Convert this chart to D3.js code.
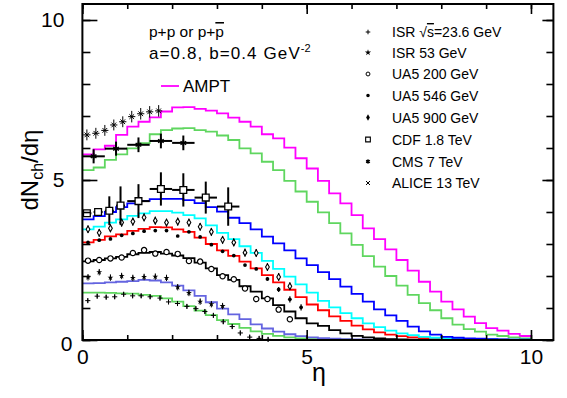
<!DOCTYPE html>
<html><head><meta charset="utf-8">
<script src="https://cdn.jsdelivr.net/npm/d3@7"></script>
<style>
body{margin:0;background:#fff}
svg{display:block}
text{font-family:"Liberation Sans",Arial,Helvetica,sans-serif;fill:#000}
</style>
</head><body>
<svg id="c" width="567" height="398"></svg>
<script>
// ---------- data ----------
const binWidth = 0.25;
// AMPT histograms (40 bins of 0.25 from 0 to 10)
const amptAlice13 = [5.80,5.96,6.07,6.41,6.67,6.82,6.96,7.14,7.27,7.28, 7.22,7.17,7.08,6.95,6.82,6.67,6.43,6.30,6.01,5.68, 5.36,4.97,4.58,4.27,3.90,3.49,3.15,2.83,2.50,2.17, 1.82,1.51,1.20,0.96,0.73,0.53,0.37,0.29,0.19,0.125];
const amptCms7 = [5.31,5.39,5.63,5.80,5.99,6.15,6.43,6.56,6.61,6.62, 6.56,6.51,6.39,6.25,5.99,5.83,5.57,5.31,4.97,4.64, 4.32,3.99,3.65,3.33,2.97,2.62,2.29,2.00,1.70,1.41, 1.15,0.93,0.68,0.48,0.34,0.26,0.17,0.125,0.08,0.05];
const amptCdf = [3.77,3.87,4.00,4.15,4.27,4.35,4.40,4.41,4.41,4.37, 4.28,4.15,4.01,3.82,3.65,3.46,3.23,3.02,2.80,2.55, 2.34,2.12,1.90,1.67,1.44,1.20,0.96,0.77,0.60,0.42, 0.27,0.17,0.10,0.07,0.05,0.04,0.03,0.02,0.01,0.01];
const amptUa5900 = [3.46,3.54,3.67,3.77,3.88,3.96,4.03,4.03,3.98,3.90, 3.80,3.58,3.35,3.15,2.93,2.72,2.47,2.22,1.98,1.74, 1.48,1.22,1.02,0.84,0.68,0.52,0.40,0.29,0.21,0.15, 0.10,0.07,0.05,0.04,0.03,0.02,0.02,0.01,0.01,0.01];
const amptUa5546 = [3.05,3.13,3.24,3.30,3.41,3.47,3.53,3.52,3.46,3.38, 3.20,3.00,2.80,2.63,2.45,2.24,2.03,1.80,1.57,1.34, 1.11,0.93,0.74,0.60,0.45,0.33,0.24,0.17,0.12,0.08, 0.06,0.04,0.03,0.02,0.02,0.01,0.01,0.01,0.00,0.00];
const amptUa5200 = [2.46,2.50,2.55,2.60,2.68,2.72,2.75,2.70,2.64,2.56, 2.42,2.24,2.03,1.88,1.68,1.51,1.30,1.09,0.89,0.68, 0.52,0.44,0.31,0.21,0.13,0.08,0.05,0.03,0.02,0.01, 0.01,0.01,0.00,0.00,0.00,0.00,0.00,0.00,0.00,0.00];
const amptIsr53 = [1.77,1.78,1.80,1.82,1.84,1.88,1.86,1.80,1.70,1.55, 1.38,1.18,0.98,0.80,0.65,0.49,0.36,0.26,0.18,0.12, 0.08,0.06,0.04,0.03,0.02,0.01,0.01,0.01,0.00,0.00, 0.00,0.00,0.00,0.00,0.00,0.00,0.00,0.00,0.00,0.00];
const amptIsr23 = [1.48,1.48,1.47,1.46,1.45,1.41,1.38,1.30,1.20,1.06, 0.92,0.78,0.62,0.50,0.38,0.27,0.19,0.13,0.08,0.05, 0.03,0.02,0.01,0.01,0.00,0.00,0.00,0.00,0.00,0.00, 0.00,0.00,0.00,0.00,0.00,0.00,0.00,0.00,0.00,0.00];

// experimental data
const alice13Eta = [0.1,0.3,0.5,0.7,0.9,1.1,1.3,1.5,1.7];
const alice13Val = [6.41,6.46,6.55,6.72,6.82,6.98,7.07,7.13,7.16];
const alice13Err = [0.17,0.17,0.17,0.17,0.17,0.18,0.18,0.18,0.18];

const cms7Eta = [0.25,0.75,1.25,1.75,2.25];
const cms7Val = [5.74,5.98,6.10,6.22,6.16];
const cms7Err = [0.22,0.22,0.23,0.23,0.23];

const cdfEta = [0.1,0.35,0.6,0.85,1.25,1.75,2.25,2.75,3.25];
const cdfVal = [3.96,4.00,4.04,4.20,4.34,4.72,4.69,4.45,4.17];
const cdfErr = [0.05,0.06,0.45,0.6,0.53,0.52,0.52,0.5,0.6];
const cdfXErr = [0.1,0.1,0.1,0.1,0.25,0.25,0.25,0.25,0.25];

const ua5Eta = [0.125,0.375,0.625,0.875,1.125,1.375,1.625,1.875,2.125,2.375,2.625,2.875,3.125,3.375,3.625,3.875,4.125,4.375,4.625,4.875];
const ua5900Val = [3.46,3.35,3.49,3.67,3.70,3.83,3.73,3.67,3.70,3.67,3.54,3.38,3.13,3.05,2.73,2.72,2.28,1.97,1.68];
const ua5546Val = [3.05,3.12,3.16,3.27,3.33,3.40,3.42,3.42,3.25,3.38,3.22,2.98,2.77,2.64,2.34,2.22,1.91,1.58,1.27,1.02];
const ua5546Err = [0,0,0,0,0,0,0,0,0,0,0,0,0,0,0,0,0.06,0.08,0.1,0.1];
const ua5200Val = [2.48,2.50,2.55,2.58,2.72,2.81,2.70,2.75,2.69,2.47,2.45,2.22,1.99,1.90,1.61,1.28,1.28,0.95,0.65];

const isr53Val = [1.96,2.12,1.95,2.00,1.94,1.97,1.98,1.94,1.65,1.47,1.20,1.12,1.06];

const isr23Eta = [0.12,0.33,0.53,0.72,0.92,1.12,1.31,1.51,1.73,1.92,2.12,2.33,2.53,2.73,2.92,3.14,3.34,3.52,3.73,3.94,4.14];
const isr23Val = [1.23,1.37,1.34,1.35,1.43,1.38,1.38,1.35,1.31,1.19,1.14,1.05,0.98,0.89,0.77,0.57,0.42,0.22,0.09,0.05,0.02];

const xTicksMajor = [0,5,10];
const yTicksMajor = [0,5,10];

const legendLabels = ["ISR \u221As=23.6 GeV","ISR 53 GeV","UA5 200 GeV","UA5 546 GeV","UA5 900 GeV","CDF 1.8 TeV","CMS 7 TeV","ALICE 13 TeV"];

// ---------- chart ----------
const svg = d3.select('#c');
const x = d3.scaleLinear().domain([0,10.5]).range([82.4,553.4]);
const y = d3.scaleLinear().domain([0,10.5]).range([340,4]);

// histograms
const hists = [
  {v:amptAlice13, c:"#ff00ff"},
  {v:amptCms7, c:"#5fd65f"},
  {v:amptIsr23, c:"#5fd65f"},
  {v:amptIsr53, c:"#6464e0"},
  {v:amptUa5200, c:"#000000"},
  {v:amptUa5546, c:"#ff0000"},
  {v:amptUa5900, c:"#00ffff"},
  {v:amptCdf, c:"#0000ff"}
];
const stepLine = d3.line().x(d=>x(d[0])).y(d=>y(d[1])).curve(d3.curveStepAfter);
const gH = svg.append('g');
hists.forEach(h=>{
  const pts = h.v.map((v,i)=>[i*binWidth, v]);
  pts.push([h.v.length*binWidth, h.v[h.v.length-1]]);
  gH.append('path').attr('d', stepLine(pts)).attr('fill','none')
    .attr('stroke', h.c).attr('stroke-width',1.8);
});

// markers
const gM = svg.append('g').attr('stroke','#000').attr('fill','none');
function ebar(g, ex, ey, err, xerr, sw){
  if (err>0) g.append('line').attr('x1',x(ex)).attr('x2',x(ex)).attr('y1',y(ey-err)).attr('y2',y(ey+err)).attr('stroke-width',sw);
  if (xerr>0) g.append('line').attr('x1',x(ex-xerr)).attr('x2',x(ex+xerr)).attr('y1',y(ey)).attr('y2',y(ey)).attr('stroke-width',sw);
}
function sym(g, type, size, cx, cy, fill, sw){
  g.append('path').attr('d', d3.symbol().type(type).size(size)())
    .attr('transform',`translate(${cx},${cy})`)
    .attr('fill', fill).attr('stroke', fill==='#000'?'none':'#000').attr('stroke-width', sw);
}

// ISR 23.6: small plus with error bars
isr23Eta.forEach((e,i)=>{
  ebar(gM, e, isr23Val[i], 0.07, 0, 1);
  sym(gM, d3.symbolPlus, 10, x(e), y(isr23Val[i]), 'none', 1);
});
// ISR 53: star
isr53Val.forEach((v,i)=>{
  const e = ua5Eta[i];
  ebar(gM, e, v, 0.1, 0, 1);
  sym(gM, d3.symbolStar, 11, x(e), y(v), '#000', 0);
});
// UA5 200: open circle
ua5200Val.forEach((v,i)=>{
  sym(gM, d3.symbolCircle, 22, x(ua5Eta[i]), y(v), '#fff', 1.2);
});
// UA5 546: filled dot
ua5546Val.forEach((v,i)=>{
  ebar(gM, ua5Eta[i], v, ua5546Err[i], 0, 1.2);
  sym(gM, d3.symbolCircle, 11, x(ua5Eta[i]), y(v), '#000', 0);
});
// UA5 900: small open marker with bar
ua5900Val.forEach((v,i)=>{
  ebar(gM, ua5Eta[i], v, 0.12, 0, 1.2);
  sym(gM, d3.symbolDiamond, 12, x(ua5Eta[i]), y(v), '#fff', 1.1);
});
// CDF: open square with errors
cdfEta.forEach((e,i)=>{
  ebar(gM, e, cdfVal[i], cdfErr[i], cdfXErr[i], 2);
  sym(gM, d3.symbolSquare, 46, x(e), y(cdfVal[i]), '#fff', 1.3);
});
// CMS 7: asterisk with errors
cms7Eta.forEach((e,i)=>{
  ebar(gM, e, cms7Val[i], cms7Err[i], 0.25, 2);
  gM.append('path').attr('d', d3.symbol().type(d3.symbolAsterisk).size(30)())
    .attr('transform',`translate(${x(e)},${y(cms7Val[i])})`).attr('stroke-width',1.4);
});
// ALICE 13: times with errors
alice13Eta.forEach((e,i)=>{
  ebar(gM, e, alice13Val[i], alice13Err[i], 0.08, 1);
  gM.append('path').attr('d', d3.symbol().type(d3.symbolTimes).size(16)())
    .attr('transform',`translate(${x(e)},${y(alice13Val[i])})`).attr('stroke-width',1);
});

// ---------- axes ----------
const minorX = d3.range(0,11,1), minorY = d3.range(0,11,1);
const fmt = d3.format('d');
const gx = svg.append('g').attr('transform',`translate(0,${y(0)})`)
  .call(d3.axisBottom(x).tickValues(minorX).tickSize(-5).tickFormat(''));
const gx2 = svg.append('g').attr('transform',`translate(0,${y(0)})`)
  .call(d3.axisBottom(x).tickValues(xTicksMajor).tickSize(-10).tickPadding(9).tickFormat(fmt));
const gt = svg.append('g').attr('transform',`translate(0,${y(10.5)})`)
  .call(d3.axisTop(x).tickValues(minorX).tickSize(-5).tickFormat(''));
const gt2 = svg.append('g').attr('transform',`translate(0,${y(10.5)})`)
  .call(d3.axisTop(x).tickValues(xTicksMajor).tickSize(-10).tickFormat(''));
const gy = svg.append('g').attr('transform',`translate(${x(0)},0)`)
  .call(d3.axisLeft(y).tickValues(minorY).tickSize(-8).tickFormat(''));
const gy2 = svg.append('g').attr('transform',`translate(${x(0)},0)`)
  .call(d3.axisLeft(y).tickValues(yTicksMajor).tickSize(-15).tickPadding(18).tickFormat(fmt));
const gr = svg.append('g').attr('transform',`translate(${x(10.5)},0)`)
  .call(d3.axisRight(y).tickValues(minorY).tickSize(-7).tickFormat(''));
const gr2 = svg.append('g').attr('transform',`translate(${x(10.5)},0)`)
  .call(d3.axisRight(y).tickValues(yTicksMajor).tickSize(-11).tickFormat(''));
[gx,gx2,gt,gt2,gy,gy2,gr,gr2].forEach(g=>{
  g.select('.domain').remove();
  g.selectAll('line').attr('stroke','#000').attr('stroke-width',1.6);
  g.selectAll('text').attr('font-size',21).attr('font-family','"Liberation Sans",Arial,sans-serif').attr('fill','#000');
});
gy2.selectAll('.tick').filter(d=>d===0).select('text').attr('x',-10).attr('dy','0.5em');

// frame
svg.append('rect').attr('x',x(0)).attr('y',y(10.5)).attr('width',x(10.5)-x(0)).attr('height',y(0)-y(10.5))
  .attr('fill','none').attr('stroke','#000').attr('stroke-width',2);

// axis titles
svg.append('text').attr('x',319).attr('y',381).attr('text-anchor','middle').attr('font-size',25).text('\u03B7');
const yl = svg.append('text').attr('transform','translate(38,170) rotate(-90)').attr('text-anchor','middle').attr('font-size',24);
yl.append('tspan').text('dN');
yl.append('tspan').attr('font-size',16).attr('dy',5).text('ch');
yl.append('tspan').attr('dy',-5).text('/d\u03B7');

// annotations
const t1 = svg.append('text').attr('x',149).attr('y',37).attr('font-size',15.5);
t1.append('tspan').text('p+p or p+');
t1.append('tspan').style('text-decoration','overline').text('p');
const t2 = svg.append('text').attr('x',149).attr('y',59).attr('font-size',17).attr('letter-spacing',1.1);
t2.append('tspan').text('a=0.8, b=0.4 GeV');
t2.append('tspan').attr('font-size',11).attr('dy',-7).attr('letter-spacing',0).text('-2');

svg.append('line').attr('x1',161).attr('x2',179).attr('y1',86).attr('y2',86).attr('stroke','#ff00ff').attr('stroke-width',1.8);
svg.append('text').attr('x',183).attr('y',92).attr('font-size',17).text('AMPT');

// legend
const legY = [32,52.5,74,95.5,117.5,139.5,161.5,183];
const legX = 368;
const gL = svg.append('g').attr('stroke','#000').attr('fill','none');
const lt = [
  g=>sym(g,d3.symbolPlus,8,legX,legY[0],'none',1),
  g=>sym(g,d3.symbolStar,12,legX,legY[1],'#000',0),
  g=>sym(g,d3.symbolCircle,12,legX,legY[2],'#fff',1),
  g=>sym(g,d3.symbolCircle,10,legX,legY[3],'#000',0),
  g=>sym(g,d3.symbolDiamond,12,legX,legY[4],'#000',0),
  g=>sym(g,d3.symbolSquare,22,legX,legY[5],'#fff',1.1),
  g=>g.append('path').attr('d',d3.symbol().type(d3.symbolAsterisk).size(14)()).attr('transform',`translate(${legX},${legY[6]})`).attr('stroke-width',1.2),
  g=>g.append('path').attr('d',d3.symbol().type(d3.symbolTimes).size(12)()).attr('transform',`translate(${legX},${legY[7]})`).attr('stroke-width',1)
];
lt.forEach(f=>f(gL));
legendLabels.forEach((l,i)=>{
  const t = svg.append('text').attr('x',392).attr('y',legY[i]+5).attr('font-size',14);
  if (i===0){
    t.append('tspan').text('ISR \u221A');
    t.append('tspan').style('text-decoration','overline').text('s');
    t.append('tspan').text('=23.6 GeV');
  } else t.text(l);
});
</script>
</body></html>
